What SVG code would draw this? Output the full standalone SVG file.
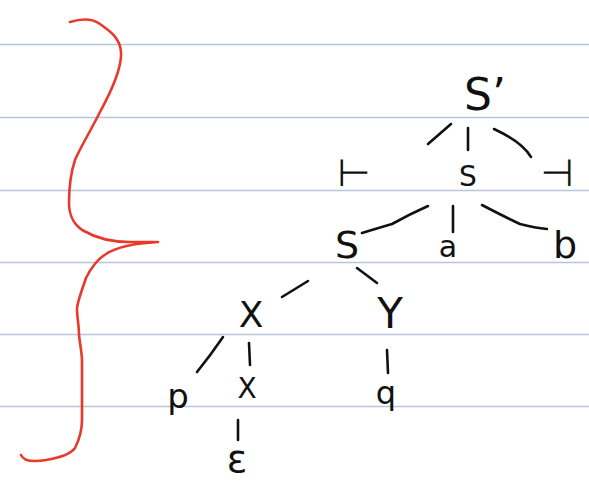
<svg xmlns="http://www.w3.org/2000/svg" width="589" height="482" viewBox="0 0 589 482">
<style>
.rule{stroke:#b6c5dc;stroke-width:1.5;fill:none}
.edge{stroke:#111;stroke-width:2.6;fill:none;stroke-linecap:round;stroke-linejoin:round}
.brace{stroke:#e8392a;stroke-width:2.6;fill:none;stroke-linecap:round;stroke-linejoin:round}
text{font-family:"DejaVu Sans","Liberation Sans",sans-serif;fill:#111;text-anchor:middle}
</style>
<rect width="589" height="482" fill="#fff"/>
<g id="rules">
<line class="rule" x1="0" y1="44.5" x2="589" y2="44.5"/>
<line class="rule" x1="0" y1="117.5" x2="589" y2="117.5"/>
<line class="rule" x1="0" y1="190.5" x2="589" y2="190.5"/>
<line class="rule" x1="0" y1="262.5" x2="589" y2="262.5"/>
<line class="rule" x1="0" y1="334.5" x2="589" y2="334.5"/>
<line class="rule" x1="0" y1="406.5" x2="589" y2="406.5"/>
</g>
<path id="brace" class="brace" d="M70 22 C80 19 92 18 100 24 C110 31 120 38 121 52 C122 66 112 90 100 112 C90 132 80 148 75 160 C71 172 69 190 69 203 C69 216 75 226 84 231 C96 238 110 242 130 242 L158 242 C140 243 118 246 106 254 C96 260 90 270 86 278 C82 290 78 300 77 308 C77 318 79 325 79 335 C80 345 82 352 82 362 L82 420 C82 432 79 440 75 448 C70 455 58 458 46 460 C34 462 24 462 21 455"/>
<g id="connectors">
<path class="edge" d="M451 124 L428 144"/>
<path class="edge" d="M468 128 L468 150"/>
<path class="edge" d="M494 129 Q522 142 531 157"/>
<path class="edge" d="M362 233 Q375 229 392 224 Q410 214 428 206"/>
<path class="edge" d="M453 206 L453 232"/>
<path class="edge" d="M482 205 Q505 217 520 224 Q535 228 547 229"/>
<path class="edge" d="M282 297 L308 281"/>
<path class="edge" d="M357 268 L377 283"/>
<path class="edge" d="M223 337 Q210 356 197 372"/>
<path class="edge" d="M249 343 L250 365"/>
<path class="edge" d="M387 350 L388 373"/>
<path class="edge" d="M238 420 L238 440"/>
</g>
<g id="n-Sprime"><text x="464" y="110" font-size="44" style="text-anchor:start">S’</text></g>
<g id="n-turnL"><text x="354" y="186" font-size="38">⊢</text></g>
<g id="n-S1"><text x="468" y="186" font-size="28">S</text></g>
<g id="n-turnR"><text x="557" y="186" font-size="38">⊣</text></g>
<g id="n-S2"><text x="347" y="258" font-size="38">S</text></g>
<g id="n-a"><text x="448" y="257" font-size="30">a</text></g>
<g id="n-b"><text x="565" y="258" font-size="38">b</text></g>
<g id="n-X1"><text x="251" y="327" font-size="36">X</text></g>
<g id="n-Y"><text x="390" y="328" font-size="42">Y</text></g>
<g id="n-p"><text x="178" y="408" font-size="34">p</text></g>
<g id="n-X2"><text x="247" y="398" font-size="28">X</text></g>
<g id="n-q"><text x="386" y="404" font-size="32">q</text></g>
<g id="n-eps"><text x="237" y="472" font-size="38">ε</text></g>
</svg>
